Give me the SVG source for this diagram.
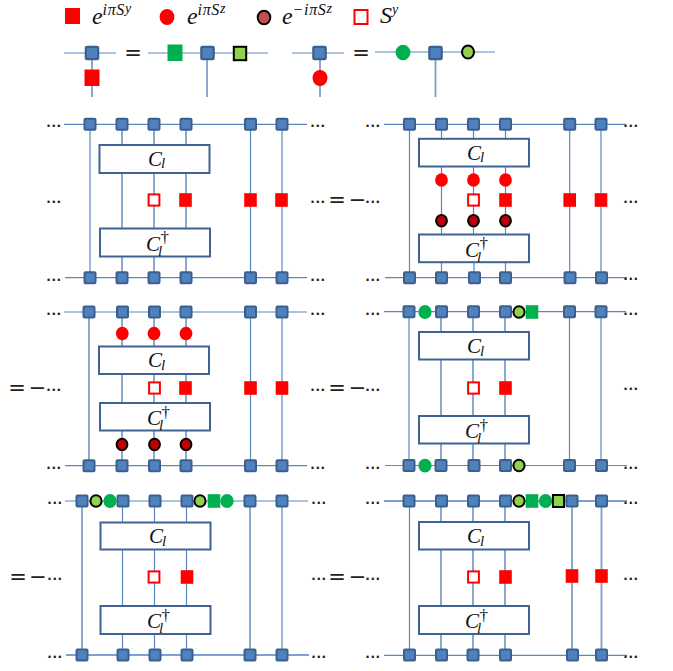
<svg xmlns="http://www.w3.org/2000/svg" width="673" height="671" viewBox="0 0 673 671">
<style>
.l{stroke:#5b87c0;stroke-width:1.2;fill:none}
.v{stroke:#7f9fcc;stroke-width:1.8;fill:none}
.b{fill:#fff;stroke:#3f6493;stroke-width:2}
.m{font-family:"Liberation Serif",serif;font-style:italic;fill:#111}
.cc{font-size:21px}.sub{font-size:15px}.dag{font-size:17px;font-style:normal}
.e{font-size:24px}.sup{font-size:16px;letter-spacing:.7px}.top{font-size:14px}
.d{font-family:"DejaVu Sans",sans-serif;font-size:12px;font-weight:bold;fill:#222;text-anchor:middle;letter-spacing:.6px}
.o{font-family:"DejaVu Sans",sans-serif;font-size:21px;fill:#222;text-anchor:middle}
</style>
<defs>
<rect id="s" x="-5.5" y="-5.5" width="11" height="11" rx="1" fill="#4f81bd" stroke="#3a6090" stroke-width="2"/>
<rect id="r" x="-6.3" y="-6.8" width="12.6" height="13.6" fill="#f00"/>
<rect id="h" x="-5.4" y="-5.6" width="10.8" height="11.2" fill="#fff" stroke="#f00" stroke-width="2"/>
<ellipse id="c" rx="6.4" ry="6.8" fill="#f00"/>
<ellipse id="k" rx="5.4" ry="5.8" fill="#c00000" stroke="#000" stroke-width="2"/>
<ellipse id="gc" rx="6.6" ry="6.9" fill="#00b050"/>
<rect id="gs" x="-6.3" y="-6.8" width="12.6" height="13.6" fill="#00b050"/>
<ellipse id="lc" rx="5.6" ry="5.8" fill="#92d050" stroke="#000" stroke-width="2"/>
<rect id="ls" x="-5.6" y="-6" width="11.2" height="12" fill="#92d050" stroke="#000" stroke-width="2"/>
</defs>

<g id="connectors">
<path class="l" d="M64 53H116M148 53H268M292 53H344M375 52H495"/>
<path class="v" d="M92 53V97M207 53V97M320 53V97M435.500 53V97"/>
<path class="l" d="M64 124.300H307M65 277.700H307M90 124V278M250.500 124V278M282 124V278"/>
<path class="v" d="M122 124V145M154 124V145M186 124V145M122 173V228M154 173V228M186 173V228M122 256V278M154 256V278M186 256V278"/>
<path class="l" d="M384 124.300H626M385 277.700H627M409.500 124V278M569.700 124V278M601 124V278M441.500 124V139M473.500 124V139M505.500 124V139M441.500 166V234M473.500 166V234M505.500 166V234M441.500 262V278M474 262V278M505.500 262V278"/>
<path class="l" d="M64 312H307M65 465.700H307M250.500 312V466M282 312V466"/>
<path class="v" d="M89 312V466M122 312V346M154 312V346M186 312V346M122 374V403M154 374V403M186 374V403M122 430V466M154 430V466M186 430V466"/>
<path class="l" d="M384 311.700H626M385 465.500H627M409 312V465M569.500 312V465M601 312V465"/>
<path class="v" d="M441 312V332M473 312V332M505 312V332M441 359V416M473 359V416M505 359V416M441 443V465M473 443V465M505 443V465"/>
<path class="l" d="M65 501H308M122.500 501V522M154.500 501V522M186.500 501V522M122.500 549V606M154.500 549V606M186.500 549V606M122.500 634V655M154.500 634V655M186.500 634V655M282 501V655"/>
<path class="v" d="M66 655H309M82 501V655M250 501V655"/>
<path class="l" d="M384 655.300H627M409.500 501V655"/>
<path class="v" d="M384 501H627M441 501V522M473 501V522M505 501V522M441 549V606M473 549V606M505 549V606M441 634V655M473 634V655M505 634V655M572 501V655M601.500 501V655"/>
</g>

<g id="legend">
<rect x="65" y="8" width="15" height="16" fill="#f00"/>
<text class="m e" x="92" y="23.500">e<tspan class="sup" x="102.500" y="15">iπS</tspan><tspan class="top" y="13">y</tspan></text>
<ellipse cx="167" cy="17" rx="7.400" ry="8" fill="#f00"/>
<text class="m e" x="187" y="23.500">e<tspan class="sup" x="197.500" y="15">iπS</tspan><tspan class="top" y="13">z</tspan></text>
<ellipse cx="264" cy="17.500" rx="6.300" ry="6.800" fill="#c0504d" stroke="#000" stroke-width="2"/>
<text class="m e" x="282" y="24">e<tspan class="sup" x="292.500" y="15">−iπS</tspan><tspan class="top" y="13">z</tspan></text>
<rect x="354.500" y="10" width="13" height="14" fill="#fff" stroke="#f00" stroke-width="2"/>
<text class="m e" x="380" y="23">S<tspan class="top" font-size="15" y="14">y</tspan></text>
</g>
<g id="key-1"><use href="#s" transform="translate(92 53) scale(1.12)"/><rect x="84.500" y="69.500" width="15" height="16.500" fill="#f00"/></g>
<g id="key-2"><rect x="167.500" y="44.500" width="15" height="16.500" fill="#00b050"/><use href="#s" transform="translate(207.500 53) scale(1.12)"/><rect x="233.800" y="46.800" width="12.400" height="13.400" fill="#92d050" stroke="#000" stroke-width="2"/></g>
<g id="key-3"><use href="#s" transform="translate(319.500 53) scale(1.12)"/><ellipse cx="320" cy="78" rx="7.500" ry="8" fill="#f00"/></g>
<g id="key-4"><ellipse cx="403" cy="52.500" rx="7.400" ry="7.800" fill="#00b050"/><use href="#s" transform="translate(435.500 53) scale(1.12)"/><ellipse cx="468" cy="52" rx="6" ry="6.500" fill="#92d050" stroke="#000" stroke-width="2"/></g>

<g id="p1-top"><use href="#s" x="90" y="124.300"/><use href="#s" x="122" y="124.300"/><use href="#s" x="154" y="124.300"/><use href="#s" x="186" y="124.300"/><use href="#s" x="250.500" y="124.300"/><use href="#s" x="282" y="124.300"/></g>
<g id="p1-bottom"><use href="#s" x="90" y="277.700"/><use href="#s" x="122" y="277.700"/><use href="#s" x="154" y="277.700"/><use href="#s" x="186" y="277.700"/><use href="#s" x="250.500" y="277.700"/><use href="#s" x="282" y="277.700"/></g>
<g id="p1-C"><rect class="b" x="99.500" y="145" width="110" height="28"/><text class="m cc" x="148" y="165.700">C<tspan class="sub" x="161" y="168">l</tspan></text></g>
<g id="p1-Cd"><rect class="b" x="100" y="228.500" width="110" height="28"/><text class="m cc" x="146" y="250.500">C<tspan class="sub" x="158" y="256">l</tspan><tspan class="dag" x="160.500" y="243">†</tspan></text></g>
<g id="p1-mid"><use href="#h" x="154" y="200"/><use href="#r" x="185.500" y="200"/><use href="#r" x="250.500" y="200"/><use href="#r" x="281.500" y="200"/></g>

<g id="p2-top"><use href="#s" x="409.500" y="124.300"/><use href="#s" x="441.500" y="124.300"/><use href="#s" x="473.500" y="124.300"/><use href="#s" x="505.500" y="124.300"/><use href="#s" x="569.700" y="124.300"/><use href="#s" x="601" y="124.300"/></g>
<g id="p2-bottom"><use href="#s" x="409.500" y="277.700"/><use href="#s" x="441.500" y="277.700"/><use href="#s" x="474.500" y="277.700"/><use href="#s" x="505.500" y="277.700"/><use href="#s" x="570" y="277.700"/><use href="#s" x="601.500" y="277.700"/></g>
<g id="p2-C"><rect class="b" x="419" y="138.800" width="110" height="27.700"/><text class="m cc" x="467" y="159.500">C<tspan class="sub" x="480" y="162">l</tspan></text></g>
<g id="p2-Cd"><rect class="b" x="419" y="234.500" width="110" height="27.700"/><text class="m cc" x="465" y="256.500">C<tspan class="sub" x="477" y="262">l</tspan><tspan class="dag" x="479.500" y="249">†</tspan></text></g>
<g id="p2-mid"><use href="#c" x="441.500" y="180"/><use href="#c" x="473.500" y="180"/><use href="#c" x="505.500" y="180"/><use href="#h" x="473.500" y="200"/><use href="#r" x="505.500" y="200"/><use href="#r" x="569.700" y="200"/><use href="#r" x="601" y="200"/><use href="#k" x="441.500" y="220.700"/><use href="#k" x="473.500" y="220.700"/><use href="#k" x="505.500" y="220.700"/></g>

<g id="p3-top"><use href="#s" x="89" y="312"/><use href="#s" x="122.500" y="312"/><use href="#s" x="154.500" y="312"/><use href="#s" x="186" y="312"/><use href="#s" x="250.500" y="312"/><use href="#s" x="282" y="312"/></g>
<g id="p3-bottom"><use href="#s" x="89" y="465.700"/><use href="#s" x="122" y="465.700"/><use href="#s" x="154.500" y="465.700"/><use href="#s" x="186" y="465.700"/><use href="#s" x="250.500" y="465.700"/><use href="#s" x="282" y="465.700"/></g>
<g id="p3-C"><rect class="b" x="99" y="346.500" width="110" height="27.500"/><text class="m cc" x="148" y="367.300">C<tspan class="sub" x="161" y="370">l</tspan></text></g>
<g id="p3-Cd"><rect class="b" x="100" y="403" width="110" height="27.500"/><text class="m cc" x="147" y="425">C<tspan class="sub" x="159" y="430">l</tspan><tspan class="dag" x="161.500" y="418">†</tspan></text></g>
<g id="p3-mid"><use href="#c" x="122.300" y="333.500"/><use href="#c" x="154" y="333.500"/><use href="#c" x="186" y="333.500"/><use href="#h" x="154.500" y="388"/><use href="#r" x="185.500" y="388"/><use href="#r" x="250.500" y="388"/><use href="#r" x="282" y="388"/><use href="#k" x="122" y="444.500"/><use href="#k" x="154.500" y="444.500"/><use href="#k" x="186" y="444.500"/></g>

<g id="p4-top"><use href="#s" x="409" y="311.700"/><use href="#gc" x="425" y="312"/><use href="#s" x="441.500" y="311.700"/><use href="#s" x="473.500" y="311.700"/><use href="#s" x="505.500" y="311.700"/><use href="#lc" x="519" y="312"/><use href="#gs" x="532" y="312"/><use href="#s" x="569.500" y="311.700"/><use href="#s" x="601" y="311.700"/></g>
<g id="p4-bottom"><use href="#s" x="409" y="465.500"/><use href="#gc" x="425" y="465.700"/><use href="#s" x="441" y="465.500"/><use href="#s" x="474" y="465.500"/><use href="#s" x="505.500" y="465.500"/><use href="#lc" x="519" y="465.500"/><use href="#s" x="569.500" y="465.500"/><use href="#s" x="601.500" y="465.500"/></g>
<g id="p4-C"><rect class="b" x="419" y="332" width="110" height="27.500"/><text class="m cc" x="467" y="353">C<tspan class="sub" x="480" y="355.500">l</tspan></text></g>
<g id="p4-Cd"><rect class="b" x="419" y="416" width="110" height="27.500"/><text class="m cc" x="465" y="438">C<tspan class="sub" x="477" y="443">l</tspan><tspan class="dag" x="479.500" y="431">†</tspan></text></g>
<g id="p4-mid"><use href="#h" x="473.500" y="388"/><use href="#r" x="505.500" y="388"/></g>

<g id="p5-top"><use href="#s" x="82" y="501"/><use href="#lc" x="96" y="501"/><use href="#gc" x="110" y="501"/><use href="#s" x="123" y="501"/><use href="#s" x="155" y="501"/><use href="#s" x="187" y="501"/><use href="#lc" x="200" y="501"/><use href="#gs" x="214" y="501"/><use href="#gc" x="227" y="501"/><use href="#s" x="250" y="501"/><use href="#s" x="282" y="501"/></g>
<g id="p5-bottom"><use href="#s" x="82" y="655"/><use href="#s" x="123" y="655"/><use href="#s" x="155" y="655"/><use href="#s" x="187" y="655"/><use href="#s" x="250" y="655"/><use href="#s" x="282" y="655"/></g>
<g id="p5-C"><rect class="b" x="100.500" y="522.500" width="110" height="27"/><text class="m cc" x="149" y="543">C<tspan class="sub" x="162" y="545.500">l</tspan></text></g>
<g id="p5-Cd"><rect class="b" x="100.500" y="606" width="110" height="28"/><text class="m cc" x="147" y="628">C<tspan class="sub" x="159" y="633">l</tspan><tspan class="dag" x="161.500" y="621">†</tspan></text></g>
<g id="p5-mid"><use href="#h" x="154" y="577"/><use href="#r" x="187" y="577"/></g>

<g id="p6-top"><use href="#s" x="409" y="501"/><use href="#s" x="441.500" y="501"/><use href="#s" x="473.500" y="501"/><use href="#s" x="505.500" y="501"/><use href="#lc" x="519" y="501"/><use href="#gs" x="532" y="501"/><use href="#gc" x="545.500" y="501"/><use href="#ls" x="558.500" y="501"/><use href="#s" x="572" y="501"/><use href="#s" x="601.500" y="501"/></g>
<g id="p6-bottom"><use href="#s" x="409.500" y="655"/><use href="#s" x="441.500" y="655"/><use href="#s" x="473" y="655"/><use href="#s" x="505.500" y="655"/><use href="#s" x="572.500" y="655"/><use href="#s" x="601.500" y="655"/></g>
<g id="p6-C"><rect class="b" x="419" y="522" width="110" height="27.500"/><text class="m cc" x="467" y="543">C<tspan class="sub" x="480" y="545.500">l</tspan></text></g>
<g id="p6-Cd"><rect class="b" x="419" y="606" width="110" height="28"/><text class="m cc" x="465" y="628">C<tspan class="sub" x="477" y="633">l</tspan><tspan class="dag" x="479.500" y="621">†</tspan></text></g>
<g id="p6-mid"><use href="#h" x="473.500" y="577"/><use href="#r" x="505.500" y="577"/><use href="#r" x="572" y="576"/><use href="#r" x="601.500" y="576"/></g>

<g id="dots">
<text class="d" x="54" y="129.500">···</text><text class="d" x="54" y="205.500">···</text><text class="d" x="54" y="283.500">···</text>
<text class="d" x="318" y="129.500">···</text><text class="d" x="318" y="205.500">···</text><text class="d" x="318" y="283.500">···</text>
<text class="d" x="373" y="129.500">···</text><text class="d" x="373" y="205.500">···</text><text class="d" x="373" y="283.500">···</text>
<text class="d" x="631" y="129.500">···</text><text class="d" x="631" y="205.500">···</text><text class="d" x="631" y="282.500">···</text>
<text class="d" x="54" y="317.500">···</text><text class="d" x="54" y="393.500">···</text><text class="d" x="54" y="471.500">···</text>
<text class="d" x="318" y="317.500">···</text><text class="d" x="318" y="393.500">···</text><text class="d" x="318" y="471.500">···</text>
<text class="d" x="373" y="317.500">···</text><text class="d" x="373" y="393.500">···</text><text class="d" x="373" y="471.500">···</text>
<text class="d" x="631" y="317.500">···</text><text class="d" x="631" y="392.500">···</text><text class="d" x="631" y="471.500">···</text>
<text class="d" x="55" y="506.500">···</text><text class="d" x="55" y="582.500">···</text><text class="d" x="55" y="660.500">···</text>
<text class="d" x="319" y="506.500">···</text><text class="d" x="319" y="582.500">···</text><text class="d" x="319" y="660.500">···</text>
<text class="d" x="373" y="506.500">···</text><text class="d" x="373" y="582.500">···</text><text class="d" x="373" y="660.500">···</text>
<text class="d" x="631" y="506.500">···</text><text class="d" x="631" y="582.500">···</text><text class="d" x="631" y="660.500">···</text>
</g>
<g id="equals">
<text class="o" x="133" y="60">=</text><text class="o" x="361" y="60">=</text>
<text class="o" x="337" y="207">=</text><text class="o" x="357.500" y="207">−</text>
<text class="o" x="17" y="395">=</text><text class="o" x="37.500" y="395">−</text>
<text class="o" x="337" y="395">=</text><text class="o" x="357.500" y="395">−</text>
<text class="o" x="18" y="584">=</text><text class="o" x="38" y="584">−</text>
<text class="o" x="337" y="584">=</text><text class="o" x="357.500" y="584">−</text>
</g>
</svg>
